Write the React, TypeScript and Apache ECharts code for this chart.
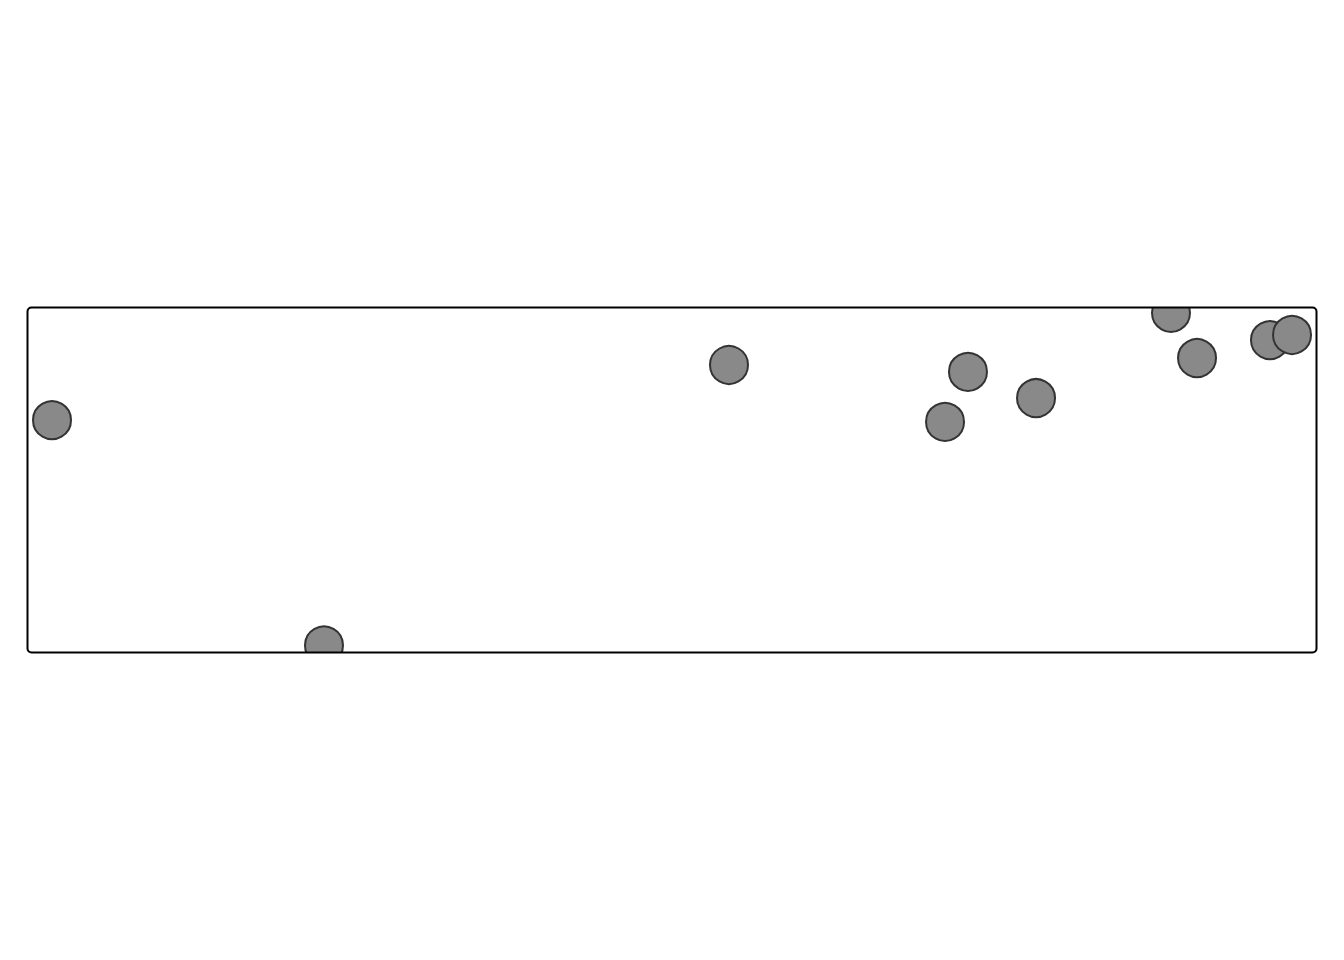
import React, { useEffect, useRef } from "react";
import * as echarts from "echarts";

const xValues = [1.94, 23.04, 54.46, 71.22, 73.0, 78.28, 88.75, 90.77, 96.43, 98.14];
const yValues = [67.2, 1.9, 83.2, 66.7, 81.2, 73.6, 98.3, 85.2, 90.4, 91.9];

export default function App() {
  const ref = useRef<HTMLDivElement>(null);
  useEffect(() => {
    if (!ref.current) return;
    const chart = echarts.init(ref.current, null, { renderer: "svg" });
    const data = xValues.map((x, i) => [x, yValues[i]]);
    const mask = { fill: "#ffffff", stroke: "none" };
    chart.setOption({
      animation: false,
      backgroundColor: "#ffffff",
      grid: { left: 27, right: 28, top: 307, bottom: 308, show: false },
      xAxis: { type: "value", min: 0, max: 100, show: false },
      yAxis: { type: "value", min: 0, max: 100, show: false },
      series: [
        {
          type: "scatter",
          data,
          symbol: "circle",
          symbolSize: 38,
          clip: true,
          itemStyle: { color: "#898989", borderColor: "#333333", borderWidth: 2, opacity: 1 },
        },
      ],
      graphic: [
        { type: "rect", z: 90, shape: { x: 0, y: 0, width: 1344, height: 307.5 }, style: mask },
        { type: "rect", z: 90, shape: { x: 0, y: 652.5, width: 1344, height: 308 }, style: mask },
        { type: "rect", z: 90, shape: { x: 0, y: 0, width: 27.5, height: 960 }, style: mask },
        { type: "rect", z: 90, shape: { x: 1316.5, y: 0, width: 28, height: 960 }, style: mask },
        {
          type: "rect",
          z: 100,
          shape: { x: 27.5, y: 307.5, width: 1289, height: 345, r: 4 },
          style: { fill: "none", stroke: "#000000", lineWidth: 2 },
        },
      ],
    });
    return () => chart.dispose();
  }, []);
  return <div ref={ref} style={{ position: "fixed", left: 0, top: 0, width: 1344, height: 960 }} />;
}
